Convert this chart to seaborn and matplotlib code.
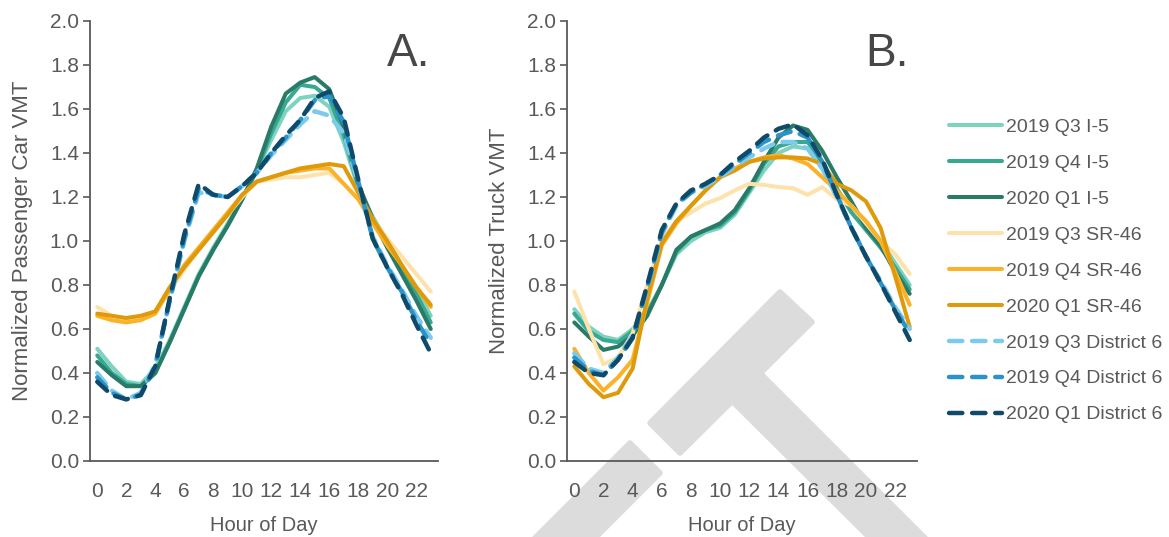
import matplotlib
matplotlib.use('Agg')
import matplotlib.pyplot as plt
from matplotlib.patches import Polygon
from matplotlib.ticker import FormatStrFormatter
import numpy as np
import pandas as pd
import seaborn as sns

# Datos (hora 0-23)
horas = list(range(24))
series = ['2019 Q3 I-5', '2019 Q4 I-5', '2020 Q1 I-5',
          '2019 Q3 SR-46', '2019 Q4 SR-46', '2020 Q1 SR-46',
          '2019 Q3 District 6', '2019 Q4 District 6', '2020 Q1 District 6']
colores = ['#7dd3c0', '#38a892', '#2a7a68',
           '#fde3ab', '#fbb128', '#df9a0b',
           '#7ccaec', '#2a93c8', '#0f4a6a']
estilos = ['', '', '', '', '', '', (3, 2.2), (3, 2.2), (3, 2.2)]

# Panel A: vehículos de pasajeros
a_q3_i5 = [0.51, 0.43, 0.36, 0.35, 0.42, 0.55, 0.70, 0.85, 0.97, 1.08, 1.19, 1.32, 1.46, 1.59, 1.65, 1.66, 1.61, 1.45, 1.24, 1.11, 1.00, 0.89, 0.78, 0.66]
a_q4_i5 = [0.48, 0.40, 0.35, 0.34, 0.40, 0.54, 0.69, 0.84, 0.96, 1.07, 1.19, 1.32, 1.49, 1.63, 1.71, 1.70, 1.65, 1.48, 1.25, 1.10, 0.99, 0.88, 0.76, 0.63]
a_q1_i5 = [0.45, 0.39, 0.34, 0.34, 0.40, 0.54, 0.69, 0.84, 0.96, 1.07, 1.19, 1.33, 1.52, 1.67, 1.72, 1.745, 1.69, 1.52, 1.26, 1.10, 0.97, 0.85, 0.73, 0.60]
a_q3_sr = [0.70, 0.66, 0.64, 0.65, 0.68, 0.77, 0.87, 0.96, 1.04, 1.12, 1.20, 1.27, 1.28, 1.29, 1.29, 1.30, 1.31, 1.26, 1.19, 1.10, 1.01, 0.93, 0.85, 0.77]
a_q4_sr = [0.66, 0.64, 0.63, 0.64, 0.67, 0.78, 0.89, 0.97, 1.05, 1.13, 1.21, 1.27, 1.29, 1.31, 1.32, 1.33, 1.33, 1.26, 1.19, 1.08, 0.98, 0.89, 0.79, 0.70]
a_q1_sr = [0.67, 0.66, 0.65, 0.66, 0.68, 0.79, 0.88, 0.96, 1.04, 1.12, 1.21, 1.27, 1.29, 1.31, 1.33, 1.34, 1.35, 1.34, 1.22, 1.10, 1.00, 0.89, 0.79, 0.71]
a_q3_d6 = [0.40, 0.32, 0.28, 0.31, 0.44, 0.73, 1.00, 1.22, 1.21, 1.20, 1.25, 1.31, 1.39, 1.46, 1.53, 1.59, 1.57, 1.49, 1.26, 1.02, 0.89, 0.78, 0.66, 0.56]
a_q4_d6 = [0.38, 0.31, 0.28, 0.30, 0.43, 0.73, 1.01, 1.24, 1.21, 1.20, 1.25, 1.31, 1.40, 1.47, 1.55, 1.64, 1.66, 1.54, 1.27, 1.01, 0.88, 0.77, 0.64, 0.53]
a_q1_d6 = [0.36, 0.30, 0.28, 0.30, 0.43, 0.74, 1.03, 1.26, 1.21, 1.20, 1.25, 1.31, 1.40, 1.48, 1.55, 1.65, 1.68, 1.56, 1.28, 1.01, 0.88, 0.76, 0.62, 0.49]

# Panel B: camiones
b_q3_i5 = [0.69, 0.61, 0.565, 0.55, 0.60, 0.68, 0.80, 0.94, 1.00, 1.04, 1.06, 1.12, 1.22, 1.32, 1.40, 1.43, 1.42, 1.33, 1.22, 1.15, 1.09, 1.00, 0.90, 0.80]
b_q4_i5 = [0.67, 0.59, 0.55, 0.54, 0.59, 0.67, 0.80, 0.95, 1.02, 1.05, 1.07, 1.13, 1.23, 1.35, 1.43, 1.45, 1.45, 1.36, 1.24, 1.13, 1.05, 0.97, 0.88, 0.78]
b_q1_i5 = [0.63, 0.565, 0.505, 0.52, 0.57, 0.66, 0.80, 0.96, 1.02, 1.05, 1.08, 1.14, 1.24, 1.36, 1.47, 1.525, 1.505, 1.41, 1.29, 1.18, 1.06, 0.98, 0.86, 0.76]
b_q3_sr = [0.77, 0.60, 0.44, 0.47, 0.58, 0.80, 1.00, 1.09, 1.13, 1.17, 1.195, 1.23, 1.26, 1.255, 1.245, 1.24, 1.21, 1.245, 1.19, 1.16, 1.08, 1.00, 0.94, 0.85]
b_q4_sr = [0.51, 0.40, 0.32, 0.38, 0.46, 0.72, 0.98, 1.08, 1.16, 1.23, 1.29, 1.33, 1.36, 1.38, 1.39, 1.375, 1.35, 1.29, 1.23, 1.16, 1.09, 1.00, 0.86, 0.71]
b_q1_sr = [0.43, 0.35, 0.29, 0.31, 0.42, 0.74, 0.99, 1.09, 1.16, 1.23, 1.29, 1.32, 1.36, 1.375, 1.38, 1.38, 1.375, 1.35, 1.26, 1.23, 1.18, 1.06, 0.84, 0.61]
b_q3_d6 = [0.49, 0.42, 0.40, 0.47, 0.57, 0.78, 1.03, 1.16, 1.22, 1.25, 1.29, 1.34, 1.38, 1.42, 1.45, 1.45, 1.42, 1.33, 1.20, 1.06, 0.93, 0.82, 0.70, 0.60]
b_q4_d6 = [0.47, 0.41, 0.39, 0.46, 0.56, 0.79, 1.04, 1.17, 1.22, 1.26, 1.30, 1.35, 1.40, 1.45, 1.48, 1.50, 1.47, 1.36, 1.21, 1.06, 0.93, 0.81, 0.69, 0.58]
b_q1_d6 = [0.45, 0.40, 0.39, 0.46, 0.56, 0.80, 1.05, 1.17, 1.23, 1.26, 1.30, 1.36, 1.41, 1.47, 1.51, 1.53, 1.48, 1.37, 1.21, 1.06, 0.93, 0.81, 0.68, 0.55]

valores_a = [a_q3_i5, a_q4_i5, a_q1_i5, a_q3_sr, a_q4_sr, a_q1_sr, a_q3_d6, a_q4_d6, a_q1_d6]
valores_b = [b_q3_i5, b_q4_i5, b_q1_i5, b_q3_sr, b_q4_sr, b_q1_sr, b_q3_d6, b_q4_d6, b_q1_d6]

GRIS = '#595959'
W, H = 1169, 537

sns.set_theme(style='white')
plt.rcParams['font.family'] = ['Liberation Sans', 'DejaVu Sans']
plt.rcParams['font.size'] = 14


def tabla(valores):
    return pd.DataFrame({
        'Hora': np.tile(horas, len(series)),
        'VMT': np.concatenate(valores),
        'Serie': np.repeat(series, len(horas)),
    })


def grafica(ax, valores, etiqueta_y, letra):
    sns.lineplot(data=tabla(valores), x='Hora', y='VMT', hue='Serie', style='Serie',
                 hue_order=series, style_order=series,
                 palette=dict(zip(series, colores)), dashes=dict(zip(series, estilos)),
                 linewidth=2.9, errorbar=None, legend=False, ax=ax)
    for linea in ax.get_lines():
        linea.set_dash_capstyle('round')
        linea.set_solid_capstyle('round')
        linea.set_solid_joinstyle('round')
        linea.set_dash_joinstyle('round')
        if linea.get_linestyle() != '-':
            linea.set_linewidth(3.2)

    ax.set_facecolor('none')
    ax.set_xlim(-0.5, 23.5)
    ax.set_ylim(0, 2.0)
    ax.set_xticks(range(0, 23, 2))
    ax.set_xticks(np.arange(-0.5, 24, 1), minor=True)
    ax.set_yticks(np.arange(0, 2.01, 0.2))
    ax.yaxis.set_major_formatter(FormatStrFormatter('%.1f'))
    ax.tick_params(axis='x', which='major', length=0, pad=15, labelcolor=GRIS, labelsize=15)
    ax.tick_params(axis='x', which='minor', length=5, width=1.2, color=GRIS, direction='out')
    ax.tick_params(axis='y', length=5, width=1.2, color=GRIS, direction='out', pad=3,
                   labelcolor=GRIS, labelsize=15, left=True)
    for lado in ['top', 'right']:
        ax.spines[lado].set_visible(False)
    for lado in ['left', 'bottom']:
        ax.spines[lado].set_color(GRIS)
        ax.spines[lado].set_linewidth(1.3)

    ax.set_xlabel('Hour of Day', color=GRIS, fontsize=14.5, labelpad=11)
    ax.set_ylabel(etiqueta_y, color=GRIS, fontsize=16, labelpad=12)
    ax.text(0.977, 0.975, letra, transform=ax.transAxes, ha='right', va='top',
            fontsize=33, color='#474747')


fig = plt.figure(figsize=(W / 100, H / 100), dpi=100)

# marca de agua gris detrás de las gráficas (coordenadas en píxeles)
formas = [
    [(650, 423), (780, 292), (812, 322), (680, 453)],
    [(732, 401), (760, 373), (947, 560), (892, 560)],
    [(630, 443), (660, 473), (573, 560), (513, 560)],
]
for forma in formas:
    puntos = [(x / W, 1 - y / H) for x, y in forma]
    fig.add_artist(Polygon(puntos, closed=True, transform=fig.transFigure,
                           facecolor='#dcdcdc', edgecolor='#dcdcdc', linewidth=4,
                           joinstyle='round', zorder=-5))

ax_a = fig.add_axes([90 / W, 1 - 461 / H, 348 / W, 440 / H])
ax_b = fig.add_axes([567 / W, 1 - 461 / H, 350 / W, 440 / H])

grafica(ax_a, valores_a, 'Normalized Passenger Car VMT', 'A.')
grafica(ax_b, valores_b, 'Normalized Truck VMT', 'B.')

fig.legend(handles=ax_b.get_lines(), labels=series, loc='center left',
           bbox_to_anchor=(949 / W, 1 - 271 / H), frameon=False, fontsize=14,
           labelcolor=GRIS, handlelength=2.75, handletextpad=0.2,
           labelspacing=0.94, borderpad=0, borderaxespad=0)

fig.savefig('out.png', dpi=100)
